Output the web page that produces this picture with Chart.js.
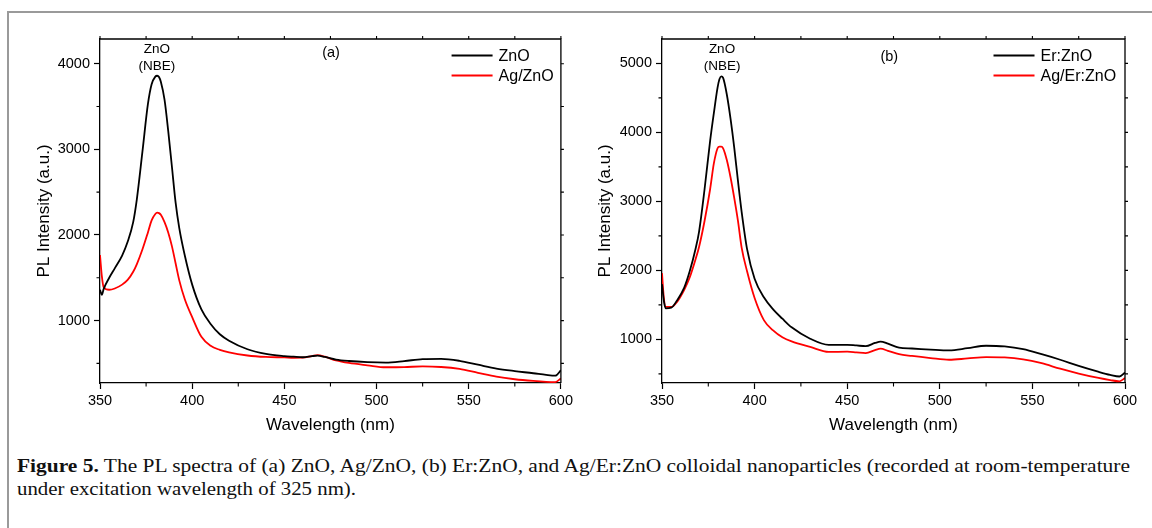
<!DOCTYPE html>
<html>
<head>
<meta charset="utf-8">
<script src="https://cdn.jsdelivr.net/npm/chart.js@4.4.1/dist/chart.umd.min.js"></script>
<style>
    html, body { margin: 0; padding: 0; background: #fff; }
    body { width: 1152px; height: 528px; position: relative; overflow: hidden; }
    #frame { position: absolute; left: 7px; top: 11px; width: 1160px; height: 540px;
             border-left: 2px solid #9a9a9a; border-top: 2px solid #9a9a9a; }
    .panel { position: absolute; top: 0; }
    #panelA { left: 0; width: 576px; height: 450px; }
    #panelB { left: 576px; width: 576px; height: 450px; }
    #caption { position: absolute; left: 17px; top: 454px; font-family: "Liberation Serif", "Times New Roman", serif;
               font-size: 19px; line-height: 23px; color: #111; }
    #caption span { display: inline-block; white-space: nowrap; transform-origin: left top; }
</style>
</head>
<body>
<div id="frame"></div>
<div class="panel" id="panelA"><canvas id="chartA"></canvas></div>
<div class="panel" id="panelB"><canvas id="chartB"></canvas></div>
<div id="caption">
    <span id="capLine1"><b>Figure 5.</b> The PL spectra of (a) ZnO, Ag/ZnO, (b) Er:ZnO, and Ag/Er:ZnO colloidal nanoparticles (recorded at room-temperature</span><br>
    <span id="capLine2">under excitation wavelength of 325 nm).</span>
</div>
<script>
// ===== DATA =====
const wavelength = [350, 351, 352, 355, 358, 362, 365, 368, 370, 373, 376, 378, 380, 381, 382, 383, 385, 387, 389, 391, 393,
    396, 400, 405, 410, 415, 420, 430, 440, 450, 455, 460, 465, 468, 472, 478, 485, 495, 505, 515, 525,
    535, 545, 555, 565, 575, 585, 592, 597, 600];

// panel (a)
const znoA = [1360, 1300, 1370, 1500, 1610, 1760, 1920, 2150, 2420, 2970, 3530, 3760, 3850, 3860, 3845, 3790, 3580, 3215, 2800, 2380, 2080,
    1760, 1420, 1130, 960, 840, 765, 665, 610, 585, 578, 572, 585, 590, 575, 545, 528, 515, 510, 527, 550,
    553, 530, 485, 440, 410, 385, 365, 356, 420];
const agZnoA = [1765, 1520, 1390, 1360, 1375, 1420, 1475, 1570, 1660, 1830, 2030, 2170, 2245, 2260, 2255, 2235, 2150, 2030, 1870, 1670, 1470,
    1250, 1040, 810, 705, 658, 628, 592, 575, 570, 566, 567, 585, 596, 578, 535, 505, 478, 455, 457, 465,
    458, 435, 390, 345, 315, 295, 285, 282, 325];

// panel (b)
const erZnoB = [1800, 1560, 1450, 1460, 1560, 1750, 1990, 2300, 2560, 3180, 3880, 4280, 4650, 4770, 4812, 4790, 4550, 4200, 3780, 3300, 2850,
    2300, 1880, 1610, 1435, 1300, 1175, 1010, 920, 922, 912, 902, 948, 968, 938, 880, 868, 852, 840, 872, 908,
    898, 858, 785, 705, 615, 535, 485, 462, 520];
const agErZnoB = [1960, 1600, 1470, 1470, 1540, 1720, 1900, 2150, 2340, 2720, 3180, 3550, 3770, 3795, 3795, 3770, 3600, 3350, 3050, 2720, 2330,
    1980, 1600, 1280, 1130, 1030, 970, 890, 818, 822, 812, 802, 845, 865, 835, 785, 760, 730, 705, 724, 742,
    738, 712, 655, 575, 505, 445, 410, 392, 440];

// ticks
const xMajor = [350, 400, 450, 500, 550, 600];
const xMinor = [375, 425, 475, 525, 575];
const yMajorA = [1000, 2000, 3000, 4000];
const yMinorA = [500, 1500, 2500, 3500];
const yMajorB = [1000, 2000, 3000, 4000, 5000];
const yMinorB = [500, 1500, 2500, 3500, 4500];

const FONT = '"Liberation Sans", Arial, sans-serif';

// ===== PLUGIN: frame, minor ticks, labels, legend =====
const decorPlugin = {
    id: 'decor',
    afterDraw(chart, args, opts) {
        const { ctx, chartArea: a, scales: { x, y } } = chart;
        ctx.save();
        ctx.strokeStyle = '#000';
        ctx.lineWidth = 1.3;

        // top and right border
        ctx.beginPath();
        ctx.moveTo(a.left, a.top);
        ctx.lineTo(a.right, a.top);
        ctx.lineTo(a.right, a.bottom);
        ctx.stroke();

        ctx.lineWidth = 1.1;
        ctx.beginPath();
        // minor ticks bottom / left
        opts.xMinor.forEach(v => {
            const px = x.getPixelForValue(v);
            ctx.moveTo(px, a.bottom); ctx.lineTo(px, a.bottom + 3.5);
        });
        opts.yMinor.forEach(v => {
            const py = y.getPixelForValue(v);
            ctx.moveTo(a.left, py); ctx.lineTo(a.left - 3.5, py);
        });
        // top / right ticks
        opts.xMajor.concat(opts.xMinor).forEach(v => {
            const px = x.getPixelForValue(v);
            ctx.moveTo(px, a.top); ctx.lineTo(px, a.top - 3);
        });
        opts.yMajor.concat(opts.yMinor).forEach(v => {
            const py = y.getPixelForValue(v);
            ctx.moveTo(a.right, py); ctx.lineTo(a.right + 3, py);
        });
        ctx.stroke();

        // peak annotation
        ctx.fillStyle = '#000';
        ctx.textAlign = 'center';
        ctx.textBaseline = 'middle';
        ctx.font = '13.5px ' + FONT;
        const peakPx = x.getPixelForValue(opts.peakAt);
        ctx.fillText('ZnO', peakPx, a.top + 10.5);
        ctx.fillText('(NBE)', peakPx, a.top + 27);

        // panel tag
        ctx.font = '14.5px ' + FONT;
        ctx.fillText(opts.tag, x.getPixelForValue(opts.tagAt), a.top + opts.tagDy);

        // legend
        ctx.textAlign = 'left';
        ctx.font = '16px ' + FONT;
        const lx0 = x.getPixelForValue(opts.legendAt);
        chart.data.datasets.forEach((ds, i) => {
            const ly = a.top + 16.5 + i * 20;
            ctx.strokeStyle = ds.borderColor;
            ctx.lineWidth = 1.8;
            ctx.beginPath();
            ctx.moveTo(lx0, ly); ctx.lineTo(lx0 + 41, ly);
            ctx.stroke();
            ctx.fillText(ds.label, lx0 + 47, ly + 1);
        });
        ctx.restore();
    }
};

function makeSeries(values) {
    return wavelength.map((w, i) => ({ x: w, y: values[i] }));
}

function createPanel(canvasId, cfg) {
    return new Chart(document.getElementById(canvasId), {
        type: 'line',
        data: {
            datasets: [{
                label: cfg.labels[0],
                data: makeSeries(cfg.series[0]),
                borderColor: '#000000',
                borderWidth: 1.8,
                pointRadius: 0,
                cubicInterpolationMode: 'monotone'
            }, {
                label: cfg.labels[1],
                data: makeSeries(cfg.series[1]),
                borderColor: '#ff0000',
                borderWidth: 1.8,
                pointRadius: 0,
                cubicInterpolationMode: 'monotone'
            }]
        },
        options: {
            responsive: true,
            maintainAspectRatio: false,
            animation: false,
            events: [],
            layout: { padding: { left: 0, top: 39, right: cfg.padRight, bottom: 0 } },
            plugins: {
                legend: { display: false },
                tooltip: { enabled: false },
                decor: cfg.decor
            },
            scales: {
                x: {
                    type: 'linear',
                    min: 350,
                    max: 600,
                    afterBuildTicks: scale => { scale.ticks = xMajor.map(v => ({ value: v })); },
                    afterFit: scale => { scale.height = 67; },
                    ticks: { color: '#000', font: { family: FONT, size: 14.5 }, padding: 3, maxRotation: 0,
                             callback: v => String(v) },
                    grid: { display: true, drawOnChartArea: false, tickLength: 6, tickWidth: 1.2, tickColor: '#000' },
                    border: { display: true, color: '#000', width: 1.3 },
                    title: { display: true, text: 'Wavelength (nm)', color: '#000',
                             font: { family: FONT, size: 17 }, padding: { top: 0, bottom: 14 } }
                },
                y: {
                    type: 'linear',
                    min: cfg.yMin,
                    max: cfg.yMax,
                    afterBuildTicks: scale => { scale.ticks = cfg.decor.yMajor.map(v => ({ value: v })); },
                    afterFit: scale => { scale.width = cfg.yWidth; },
                    ticks: { color: '#000', font: { family: FONT, size: 14.5 }, padding: 4,
                             callback: v => String(v) },
                    grid: { display: true, drawOnChartArea: false, tickLength: 6, tickWidth: 1.2, tickColor: '#000' },
                    border: { display: true, color: '#000', width: 1.3 },
                    title: { display: true, text: 'PL Intensity (a.u.)', color: '#000',
                             font: { family: FONT, size: 17 }, padding: { top: cfg.titlePad, bottom: 0 } }
                }
            }
        },
        plugins: [decorPlugin]
    });
}

createPanel('chartA', {
    labels: ['ZnO', 'Ag/ZnO'],
    series: [znoA, agZnoA],
    yMin: 271, yMax: 4289,
    yWidth: 100, padRight: 13, titlePad: 34,
    decor: { xMajor, xMinor, yMajor: yMajorA, yMinor: yMinorA,
             peakAt: 380.8, tag: '(a)', tagAt: 475.3, tagDy: 14, legendAt: 540.7 }
});

createPanel('chartB', {
    labels: ['Er:ZnO', 'Ag/Er:ZnO'],
    series: [erZnoB, agErZnoB],
    yMin: 368, yMax: 5354,
    yWidth: 86, padRight: 27, titlePad: 19,
    decor: { xMajor, xMinor, yMajor: yMajorB, yMinor: yMinorB,
             peakAt: 382.4, tag: '(b)', tagAt: 472.7, tagDy: 17.5, legendAt: 529 }
});

// squeeze caption lines to the width of the original typesetting
function fitLine(id, target) {
    const el = document.getElementById(id);
    const w = el.getBoundingClientRect().width;
    if (w > 0) el.style.transform = 'scaleX(' + (target / w) + ')';
}
fitLine('capLine1', 1113);
fitLine('capLine2', 339);
</script>
</body>
</html>
